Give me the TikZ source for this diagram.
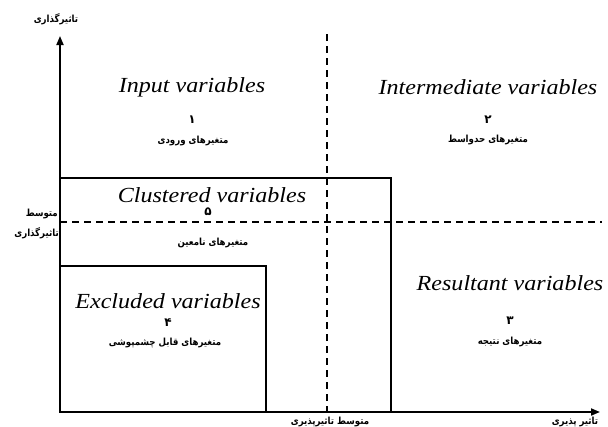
\documentclass[tikz,border=0pt]{standalone}
\usepackage{fontspec}
\setmainfont{Liberation Serif}
\newfontfamily\arabicfont[Script=Arabic]{DejaVu Sans Bold}
\TeXXeTstate=1
\usetikzlibrary{arrows.meta}
\newcommand{\wide}[1]{\scalebox{1.12}[1]{#1}}
\newcommand{\narrowfa}[1]{\scalebox{0.88}[1]{\beginR #1\endR}}
\begin{document}
\begin{tikzpicture}[x=1pt,y=-1pt,
  axis/.style={line width=1.8pt,-{Triangle[length=9pt,width=7pt]}},
  boxline/.style={line width=1.3pt},
  dashline/.style={line width=1.4pt,dash pattern=on 7pt off 5pt},
  en/.style={font=\fontsize{21.5}{23}\selectfont\itshape,inner sep=0pt},
  fa/.style={font=\arabicfont\fontsize{9.8}{11}\selectfont,inner sep=0pt},
  num/.style={font=\arabicfont\fontsize{12}{13}\selectfont,inner sep=0pt}]
\useasboundingbox (0,0) rectangle (608,426);
\coordinate (O) at (60,412);
\coordinate (Ytop) at (60,36);
\coordinate (Xend) at (600,412);
\coordinate (Vtop) at (327,34);
\coordinate (Vbot) at (327,412);
\coordinate (Hl) at (60,222);
\coordinate (Hr) at (602,222);
% boxes
\draw[boxline] (60,178) rectangle (391,412);
\draw[boxline] (60,266) rectangle (266,412);
% dashed
\draw[dashline] (Vtop) -- (Vbot);
\draw[dashline] (Hl) -- (Hr);
% axes
\draw[axis] (O) -- (Ytop);
\draw[axis] (O) -- (Xend);
% axis labels
\node[fa] (ylab) at (56,19) {\narrowfa{تاثیرگذاری}};
\node[fa] (xlab) at (575,422) {\narrowfa{تاثیر پذیری}};
\node[fa,anchor=east] (ym1) at (58,214) {\narrowfa{متوسط}};
\node[fa,anchor=east] (ym2) at (59,233) {\narrowfa{تاثیرگذاری}};
\node[fa] (xm) at (330,422) {\narrowfa{متوسط تاثیرپذیری}};
% quadrants
\node[en] (in) at (192,87) {\wide{Input variables}};
\node[num] (n1) at (192,120) {۱};
\node[fa] (t1) at (193,141) {\narrowfa{متغیرهای ورودی}};
\node[en] (im) at (488,87) {\wide{Intermediate variables}};
\node[num] (n2) at (488,120) {۲};
\node[fa] (t2) at (488,140) {\narrowfa{متغیرهای حدواسط}};
\node[en] (cl) at (212,195) {\wide{Clustered variables}};
\node[num] (n5) at (208,212) {۵};
\node[fa] (t5) at (213,243) {\narrowfa{متغیرهای نامعین}};
\node[en] (ex) at (168,301) {\wide{Excluded variables}};
\node[num] (n4) at (168,323) {۴};
\node[fa] (t4) at (165,343) {\narrowfa{متغیرهای قابل چشمپوشی}};
\node[en] (re) at (510,283) {\wide{Resultant variables}};
\node[num] (n3) at (510,321) {۳};
\node[fa] (t3) at (510,342) {\narrowfa{متغیرهای نتیجه}};
\end{tikzpicture}
\end{document}
